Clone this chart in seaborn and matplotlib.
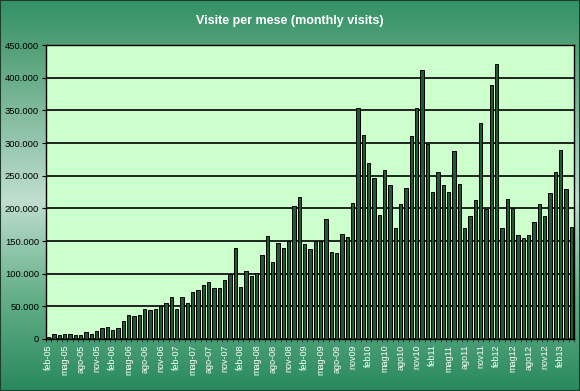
import numpy as np
import matplotlib
matplotlib.use("Agg")
import matplotlib.pyplot as plt
from matplotlib.patches import Rectangle
import seaborn as sns

# monthly visits, feb-05 .. apr-13
visits = [
    3000, 7000, 5700, 7000, 7000, 6000, 6000, 10000, 8000, 13000,
    16500, 18500, 14000, 16500, 27000, 36500, 35500, 36500, 46000, 44000,
    46000, 50500, 55000, 64000, 46000, 64000, 55000, 72000, 75000, 83000,
    87000, 78500, 77500, 90000, 99000, 140000, 79000, 104000, 97000, 101000,
    128000, 158000, 118000, 147000, 139000, 150000, 204000, 217000, 146000, 138000,
    150000, 150000, 184000, 133000, 132000, 160000, 156000, 208000, 354000, 313000,
    270000, 246000, 190000, 259000, 235000, 170000, 207000, 231000, 311000, 354000,
    411000, 298000, 225000, 256000, 236000, 225000, 287000, 238000, 170000, 189000,
    212000, 331000, 199000, 389000, 421000, 170000, 214000, 201000, 159000, 155000,
    159000, 179000, 206000, 189000, 224000, 256000, 289000, 230000, 172000,
]

it_months = ["gen", "feb", "mar", "apr", "mag", "giu",
             "lug", "ago", "set", "ott", "nov", "dic"]
months = [f"{it_months[(1 + i) % 12]}-{5 + (1 + i) // 12:02d}" for i in range(len(visits))]

tick_labels = [
    "feb-05", "mag-05", "ago-05", "nov-05", "feb-06", "mag-06", "ago-06", "nov-06",
    "feb-07", "mag-07", "ago-07", "nov-07", "feb-08", "mag-08", "ago-08", "nov-08",
    "feb-09", "mag-09", "ago-09", "nov09", "feb10", "mag10", "ago10", "nov10",
    "feb11", "mag11", "ago11", "nov11", "feb12", "mag12", "ago12", "nov12", "feb13",
]

sns.set_style("white")
plt.rcParams["font.family"] = ["Liberation Sans", "DejaVu Sans"]

fig = plt.figure(figsize=(5.8, 3.91), dpi=100)

# vertical green gradient behind everything
stops_y = [0, 50, 200, 290, 391]
stops_c = np.array([[52, 146, 102], [85, 162, 122], [192, 222, 207],
                    [105, 178, 140], [40, 136, 92]]) / 255
rows = np.arange(391)
grad = np.stack([np.interp(rows, stops_y, stops_c[:, k]) for k in range(3)], axis=1)
bg = fig.add_axes([0, 0, 1, 1], zorder=-10)
bg.imshow(grad[:, None, :], aspect="auto", extent=[0, 1, 0, 1])
bg.axis("off")

ax = fig.add_axes([46 / 580, 52 / 391, 528 / 580, 294 / 391])
ax.set_facecolor("#ccffcc")
sns.barplot(x=months, y=visits, color="#1d5c2c", edgecolor="black",
            linewidth=0.7, width=0.6, saturation=1, ax=ax)

ax.set_xlim(-0.5, len(visits) - 0.5)
ax.set_ylim(0, 450000)
yt = list(range(0, 450001, 50000))
ax.set_yticks(yt)
ax.set_yticklabels([f"{v:,}".replace(",", ".") for v in yt], fontsize=6.8, color="black")
ax.tick_params(axis="y", length=3, width=0.8, color="black", pad=2, left=True)

ax.set_xticks(range(0, len(visits), 3))
ax.set_xticklabels(tick_labels, rotation=90, fontsize=6.5, color="white")
ax.set_xticks(np.arange(-0.5, len(visits), 1), minor=True)
ax.tick_params(axis="x", which="major", length=0, pad=4)
ax.tick_params(axis="x", which="minor", length=2.5, width=0.6, color="#1a3a2a", bottom=True)

ax.yaxis.grid(True, color="black", linewidth=1.2)
ax.xaxis.grid(False)
ax.set_axisbelow(True)
for s in ax.spines.values():
    s.set_color("black")
    s.set_linewidth(1)
ax.set_xlabel("")
ax.set_ylabel("")

fig.text(0.5, 1 - 21 / 391, "Visite per mese (monthly visits)", ha="center", va="center",
         color="white", fontweight="bold", fontsize=9)
fig.patches.append(Rectangle((0, 0), 1, 1, transform=fig.transFigure, fill=False,
                             edgecolor="#1e3d2e", linewidth=1.5))

fig.savefig("out.png", dpi=100)
